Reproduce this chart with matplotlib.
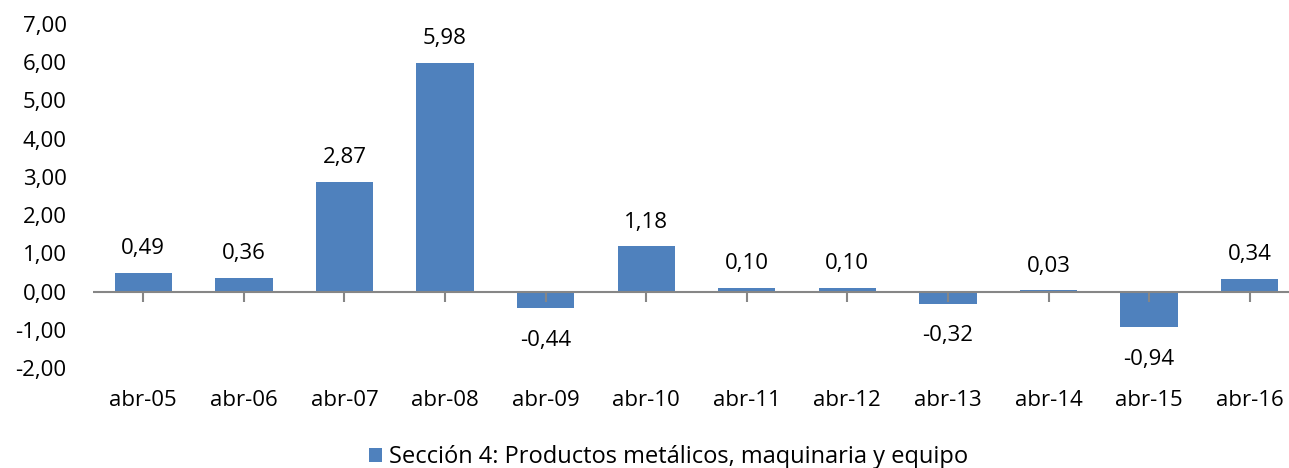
import matplotlib
matplotlib.use("Agg")
import matplotlib.pyplot as plt
from matplotlib.patches import Patch
from matplotlib.ticker import FuncFormatter

categories = ["abr-05", "abr-06", "abr-07", "abr-08", "abr-09", "abr-10",
              "abr-11", "abr-12", "abr-13", "abr-14", "abr-15", "abr-16"]
values = [0.49, 0.36, 2.87, 5.98, -0.44, 1.18, 0.10, 0.10, -0.32, 0.03, -0.94, 0.34]
series_name = "Sección 4: Productos metálicos, maquinaria y equipo"

plt.rcParams['font.family'] = ['Open Sans', 'DejaVu Sans']
FS = 16
W, H = 1289, 468
fig = plt.figure(figsize=(W / 100, H / 100), dpi=100)
left, right = 93 / W, 1300 / W
bottom, top = (H - 368) / H, (H - 24) / H
ax = fig.add_axes([left, bottom, right - left, top - bottom])

color = "#4F81BD"
axis_color = "#868686"
x = list(range(len(categories)))
ax.bar(x, values, width=0.57, color=color, zorder=2)
ax.set_xlim(-0.5, len(categories) - 0.5)
ax.set_ylim(-2, 7)
ax.set_yticks(range(-2, 8))
ax.yaxis.set_major_formatter(FuncFormatter(lambda v, p: f"{v:.2f}".replace(".", ",")))
ax.tick_params(axis='y', length=0, labelsize=FS, pad=19)

for s in ax.spines.values():
    s.set_visible(False)
ax.axhline(0, color=axis_color, lw=1.5, zorder=3)
ax.set_xticks([])

# tick marks below axis at category centers
ax.plot(x, [0] * len(x), linestyle='none', marker=3, markersize=7,
        color=axis_color, markeredgewidth=1.5, zorder=3, clip_on=False)

# category labels
for xi, c in zip(x, categories):
    ax.annotate(c, xy=(xi, -2), xytext=(0, -32), textcoords='offset pixels',
                ha='center', va='center', fontsize=FS, annotation_clip=False)

for xi, v in zip(x, values):
    s = f"{v:.2f}".replace(".", ",")
    if v >= 0:
        ax.annotate(s, xy=(xi, v), xytext=(0, 24), textcoords='offset pixels',
                    ha='center', va='center', fontsize=FS)
    else:
        ax.annotate(s, xy=(xi, v), xytext=(0, -32), textcoords='offset pixels',
                    ha='center', va='center', fontsize=FS)

handle = Patch(facecolor=color, edgecolor='none')
fig.legend([handle], [series_name], loc='center', bbox_to_anchor=(669 / W, 1 - 457 / H),
           frameon=False, fontsize=17, handlelength=0.55, handleheight=0.55,
           handletextpad=0.3)

fig.savefig("out.png", dpi=100)
